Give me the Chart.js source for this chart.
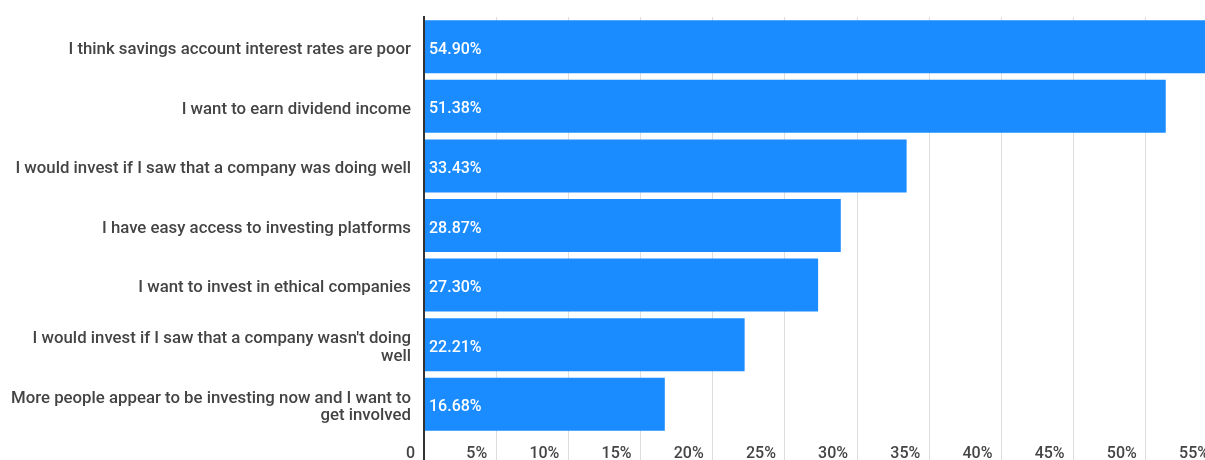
<!DOCTYPE html>
<html>
<head>
<meta charset="utf-8">
<script src="https://cdn.jsdelivr.net/npm/chart.js@4/dist/chart.umd.min.js"></script>
<style>
  html, body { margin: 0; padding: 0; background: #fff; overflow: hidden; }
  #wrap { width: 1222px; height: 470px; position: relative; }
</style>
</head>
<body>
<div id="wrap"><canvas id="reasons"></canvas></div>
<script>
// reasons for investing, share of respondents (%)
var reasons = [
    'I think savings account interest rates are poor',
    'I want to earn dividend income',
    'I would invest if I saw that a company was doing well',
    'I have easy access to investing platforms',
    'I want to invest in ethical companies',
    ['I would invest if I saw that a company wasn\'t doing', 'well'],
    ['More people appear to be investing now and I want to', 'get involved']
];
var shares = [54.90, 51.38, 33.43, 28.87, 27.30, 22.21, 16.68];
var xTicks = [0, 5, 10, 15, 20, 25, 30, 35, 40, 45, 50, 55];

// white value text at the start of each bar
var barValues = {
    id: 'barValues',
    afterDatasetsDraw: function(chart) {
        var ctx = chart.ctx;
        var meta = chart.getDatasetMeta(0);
        ctx.save();
        ctx.font = '500 16px Roboto';
        ctx.fillStyle = '#ffffff';
        ctx.textAlign = 'left';
        ctx.textBaseline = 'middle';
        meta.data.forEach(function(bar, i) {
            ctx.fillText(shares[i].toFixed(2) + '%', bar.base + 4, bar.y + 3);
        });
        ctx.restore();
    }
};

var ctx = document.getElementById('reasons').getContext('2d');
var chart = new Chart(ctx, {
    type: 'bar',
    data: {
        labels: reasons,
        datasets: [{
            data: shares,
            backgroundColor: '#1a8cff',
            barPercentage: 0.89,
            categoryPercentage: 1.0
        }]
    },
    options: {
        indexAxis: 'y',
        responsive: true,
        maintainAspectRatio: false,
        animation: false,
        layout: { padding: { top: 17, left: 0, right: 4, bottom: 0 } },
        plugins: {
            legend: { display: false },
            tooltip: { enabled: false }
        },
        scales: {
            x: {
                min: 0,
                max: 55,
                afterBuildTicks: function(scale) {
                    scale.ticks = xTicks.map(function(v) { return { value: v }; });
                },
                afterFit: function(scale) { scale.height = 36; },
                grid: {
                    // zero line stays dark all the way down, like the axis
                    color: function(c) { return c.index === 0 ? '#333333' : '#dddddd'; },
                    lineWidth: function(c) { return c.index === 0 ? 2 : 1; },
                    tickLength: 26
                },
                border: { display: false },
                ticks: {
                    align: 'end',
                    labelOffset: -9,
                    padding: -16,
                    color: '#444444',
                    font: { family: 'Roboto', size: 16, weight: '500' },
                    callback: function(v) { return v === 0 ? '0' : v + '%'; }
                }
            },
            y: {
                afterFit: function(scale) {
                    scale.width = 424;
                    scale.paddingTop = 0;
                    scale.paddingBottom = 0;
                },
                grid: { display: false, drawTicks: false },
                border: { display: true, color: '#333333', width: 2 },
                ticks: {
                    padding: 13,
                    labelOffset: 3,
                    color: '#444444',
                    font: { family: 'Roboto', size: 16.8, weight: '500', lineHeight: 1.05 }
                }
            }
        }
    },
    plugins: [barValues]
});
</script>
</body>
</html>
